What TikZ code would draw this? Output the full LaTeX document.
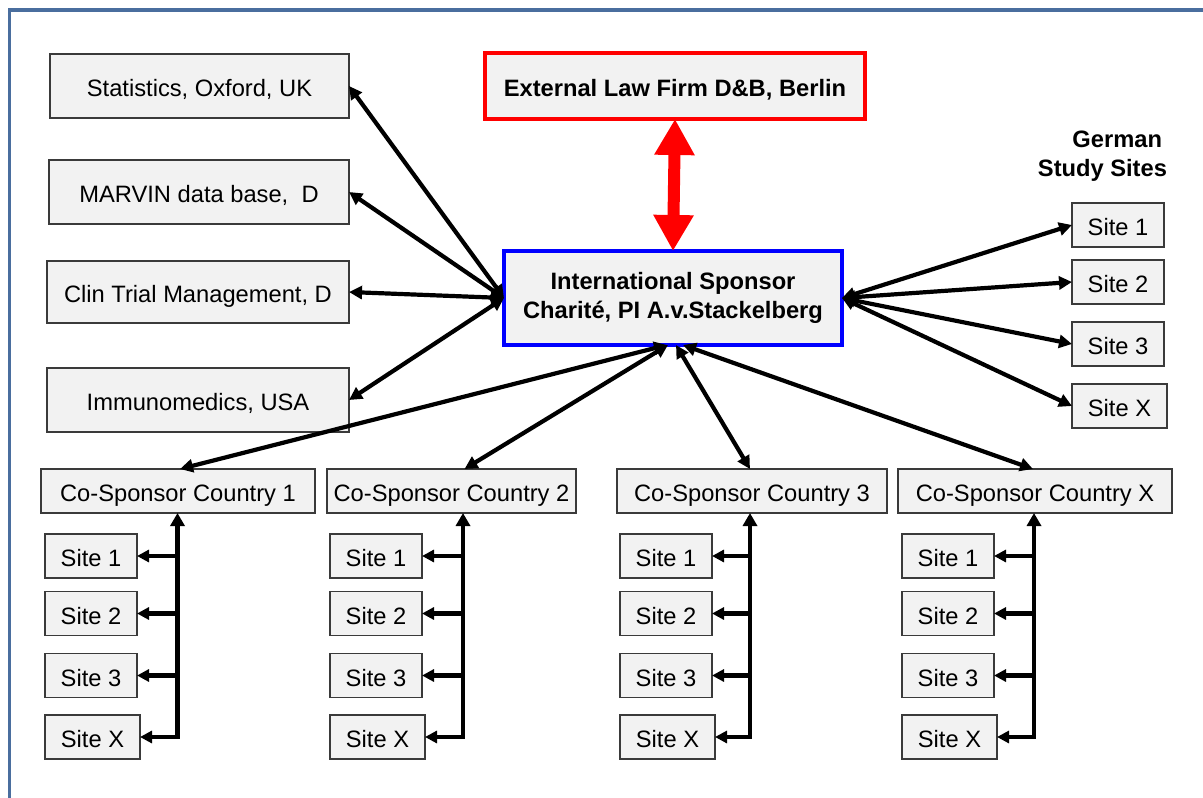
\documentclass[tikz,border=0pt]{standalone}
\usepackage{fontspec}
\setmainfont{Liberation Sans}
\usetikzlibrary{arrows.meta}
\definecolor{framec}{HTML}{4A6E9E}
\definecolor{boxfill}{HTML}{F2F2F2}
\definecolor{boxline}{HTML}{3A3A3A}
\definecolor{lawred}{HTML}{FF0000}
\definecolor{spblue}{HTML}{0000FF}
\begin{document}
\begin{tikzpicture}[x=1pt,y=-1pt,
  every node/.style={font=\fontsize{23.7}{28.4}\selectfont, inner sep=0pt, outer sep=0pt},
  box/.style={draw=boxline, line width=1.3pt, fill=boxfill, minimum height=44pt},
  tb/.style={box, text height=21pt, text depth=0pt},
  hd/.style={font=\fontsize{23.7}{28.4}\selectfont\bfseries},
  conn/.style={line width=4.2pt, draw=black, {Triangle[length=13pt,width=13pt]}-{Triangle[length=13pt,width=13pt]}},
  branch/.style={line width=4.2pt, draw=black, -{Triangle[length=12pt,width=12pt]}},
  trunk/.style={line width=4.2pt, draw=black, line join=miter, {Triangle[length=12pt,width=12pt]}-{Triangle[length=13pt,width=14pt]}},
  bigarrow/.style={line width=12pt, draw=lawred, {Triangle[length=36pt,width=38pt]}-{Triangle[length=36pt,width=38pt]}}
]
\useasboundingbox (0,0) rectangle (1203,798);
\draw[framec, line width=3.5pt] (9.5,10) rectangle (1230,830);

% left boxes
\node[tb, minimum width=299pt, minimum height=64pt] (stat) at (199.5,86) {Statistics, Oxford, UK};
\node[tb, minimum width=300pt, minimum height=64pt] (marv) at (199,192) {MARVIN data base,\ \ D};
\node[tb, minimum width=302pt, minimum height=62pt] (clin) at (198,292) {Clin Trial Management, D};
\node[tb, minimum width=302pt, minimum height=64pt] (immu) at (198,400) {Immunomedics, USA};

% law firm and sponsor
\node[tb, draw=lawred, line width=3.5pt, minimum width=380pt, minimum height=66pt, hd] (law) at (675,86) {External Law Firm D\&B, Berlin};
\node[box, draw=spblue, line width=3.5pt, minimum width=338pt, minimum height=94pt, hd, align=center] (sp) at (673,298) {International Sponsor\\Charité, PI A.v.Stackelberg};

% German study sites
\node[hd, align=right, anchor=east] (gh) at (1167,156) {German\hspace*{5pt}\\Study Sites};
\node[tb, minimum width=92pt] (g1) at (1118,225) {Site 1};
\node[tb, minimum width=92pt] (g2) at (1118,282) {Site 2};
\node[tb, minimum width=92pt] (g3) at (1118,344) {Site 3};
\node[tb, minimum width=95pt] (g4) at (1119.5,406) {Site X};

% co-sponsors
\node[tb, minimum width=274pt] (cs1) at (178,491) {Co-Sponsor Country 1};
\node[tb, minimum width=249pt] (cs2) at (451.5,491) {Co-Sponsor Country 2};
\node[tb, minimum width=270pt] (cs3) at (752,491) {Co-Sponsor Country 3};
\node[tb, minimum width=274pt] (cs4) at (1035,491) {Co-Sponsor Country X};

% co-sponsor site columns
\foreach \c/\sx/\tx in {1/91/177.5, 2/376/463, 3/666/750, 4/948/1034}{
  \node[tb, minimum width=92pt] (s\c-1) at (\sx,556) {Site 1};
  \node[tb, minimum width=92pt] (s\c-2) at (\sx,613.5) {Site 2};
  \node[tb, minimum width=92pt] (s\c-3) at (\sx,675.5) {Site 3};
  \node[tb, minimum width=95pt] (s\c-4) at (\sx+1.5,737) {Site X};
  \coordinate (t\c) at (\tx,737);
  \draw[trunk] (s\c-4.east) -- (t\c) -- (t\c |- cs\c.south);
  \draw[branch] (t\c |- s\c-1) -- (s\c-1.east);
  \draw[branch] (t\c |- s\c-2) -- (s\c-2.east);
  \draw[branch] (t\c |- s\c-3) -- (s\c-3.east);
}

% red arrow
\draw[bigarrow] (law.south) -- (sp.north);

% left connectors
\draw[conn] (sp.west) -- (stat.east);
\draw[conn] (sp.west) -- (marv.east);
\draw[conn] (sp.west) -- (clin.east);
\draw[conn] (sp.west) -- (immu.east);

% right connectors
\draw[conn] (sp.east) -- (g1.west);
\draw[conn] (sp.east) -- (g2.west);
\draw[conn] (sp.east) -- (g3.west);
\draw[conn] (sp.east) -- (g4.west);

% bottom connectors
\draw[conn] ([xshift=-6pt]sp.south) -- ([xshift=2pt]cs1.north);
\draw[conn] ([xshift=-5pt]sp.south) -- ([xshift=13pt]cs2.north);
\draw[conn] ([xshift=3pt]sp.south) -- ([xshift=-2pt]cs3.north);
\draw[conn] ([xshift=10pt]sp.south) -- ([xshift=-2pt]cs4.north);
\end{tikzpicture}
\end{document}
